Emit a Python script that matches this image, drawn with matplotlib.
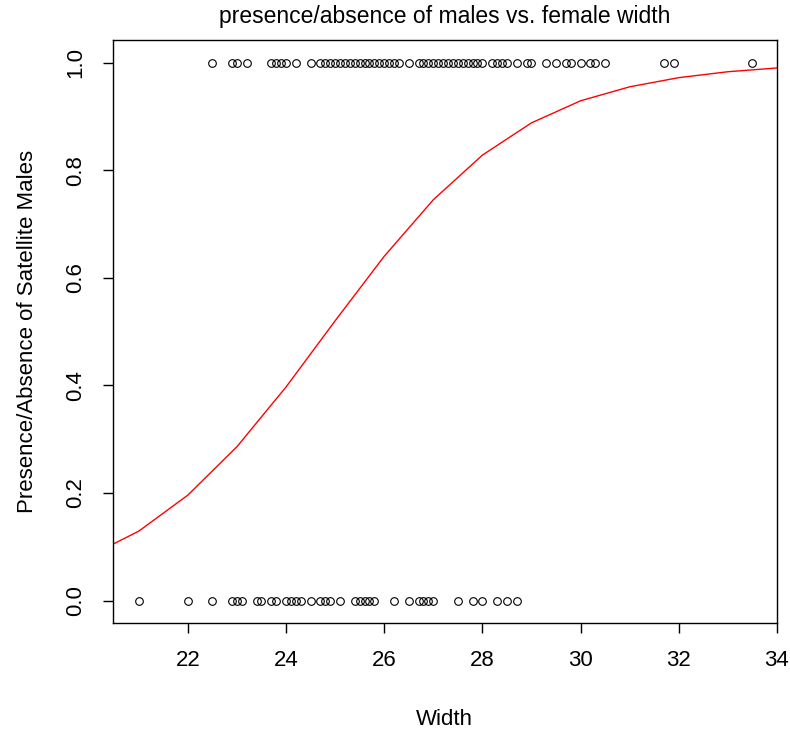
import matplotlib
matplotlib.use("Agg")
import matplotlib.pyplot as plt

plt.rcParams['font.family'] = ['Liberation Sans', 'DejaVu Sans']

# female widths where satellites were present (y = 1)
width_present = [22.5, 22.9, 23.0, 23.2, 23.7, 23.8, 23.9, 24.0, 24.2, 24.5,
                 24.7, 24.8, 24.9, 25.0, 25.1, 25.2, 25.3, 25.4, 25.5, 25.6,
                 25.7, 25.8, 25.9, 26.0, 26.1, 26.2, 26.3, 26.5, 26.7, 26.8,
                 26.9, 27.0, 27.1, 27.2, 27.3, 27.4, 27.5, 27.6, 27.7, 27.8,
                 27.9, 28.0, 28.2, 28.3, 28.4, 28.5, 28.7, 28.9, 29.0, 29.3,
                 29.5, 29.7, 29.8, 30.0, 30.2, 30.3, 30.5, 31.7, 31.9, 33.5]
# female widths where satellites were absent (y = 0)
width_absent = [21.0, 22.0, 22.5, 22.9, 23.0, 23.1, 23.4, 23.5, 23.7, 23.8,
                24.0, 24.1, 24.2, 24.3, 24.5, 24.7, 24.8, 24.9, 25.1, 25.4,
                25.5, 25.6, 25.7, 25.8, 26.2, 26.5, 26.7, 26.8, 26.9, 27.0,
                27.5, 27.8, 28.0, 28.3, 28.5, 28.7]

# fitted curve
curve_width = [20, 21, 22, 23, 24, 25, 26, 27, 28, 29, 30, 31, 32, 33, 34]
curve_prob = [0.083, 0.129, 0.196, 0.286, 0.397, 0.520, 0.640, 0.745, 0.828,
              0.888, 0.929, 0.955, 0.972, 0.983, 0.990]

fig = plt.figure(figsize=(7.9, 7.34), dpi=100)
ax = fig.add_axes([0.1427, 0.151, 0.8408, 0.7945])

ax.plot(width_present, [1] * len(width_present), 'o', mfc='none', mec='black',
        ms=5.5, mew=0.8)
ax.plot(width_absent, [0] * len(width_absent), 'o', mfc='none', mec='black',
        ms=5.5, mew=0.8)
ax.plot(curve_width, curve_prob, color='red', lw=1)

ax.set_xlim(20.47, 34)
ax.set_ylim(-0.042, 1.042)
ax.set_xticks([22, 24, 26, 28, 30, 32, 34])
ax.set_yticks([0.0, 0.2, 0.4, 0.6, 0.8, 1.0])
ax.set_yticklabels(['0.0', '0.2', '0.4', '0.6', '0.8', '1.0'], rotation=90,
                   va='center')

for s in ax.spines.values():
    s.set_linewidth(1.0)
ax.tick_params(axis='x', length=7, width=1, labelsize=16, pad=12)
ax.tick_params(axis='y', length=7, width=1, labelsize=16, pad=12)

ax.set_xlabel('Width', fontsize=16, labelpad=28)
ax.set_ylabel('Presence/Absence of Satellite Males', fontsize=16, labelpad=20)
ax.set_title('presence/absence of males vs. female width', fontsize=16.5, pad=12)

fig.savefig('out.png', dpi=100)
